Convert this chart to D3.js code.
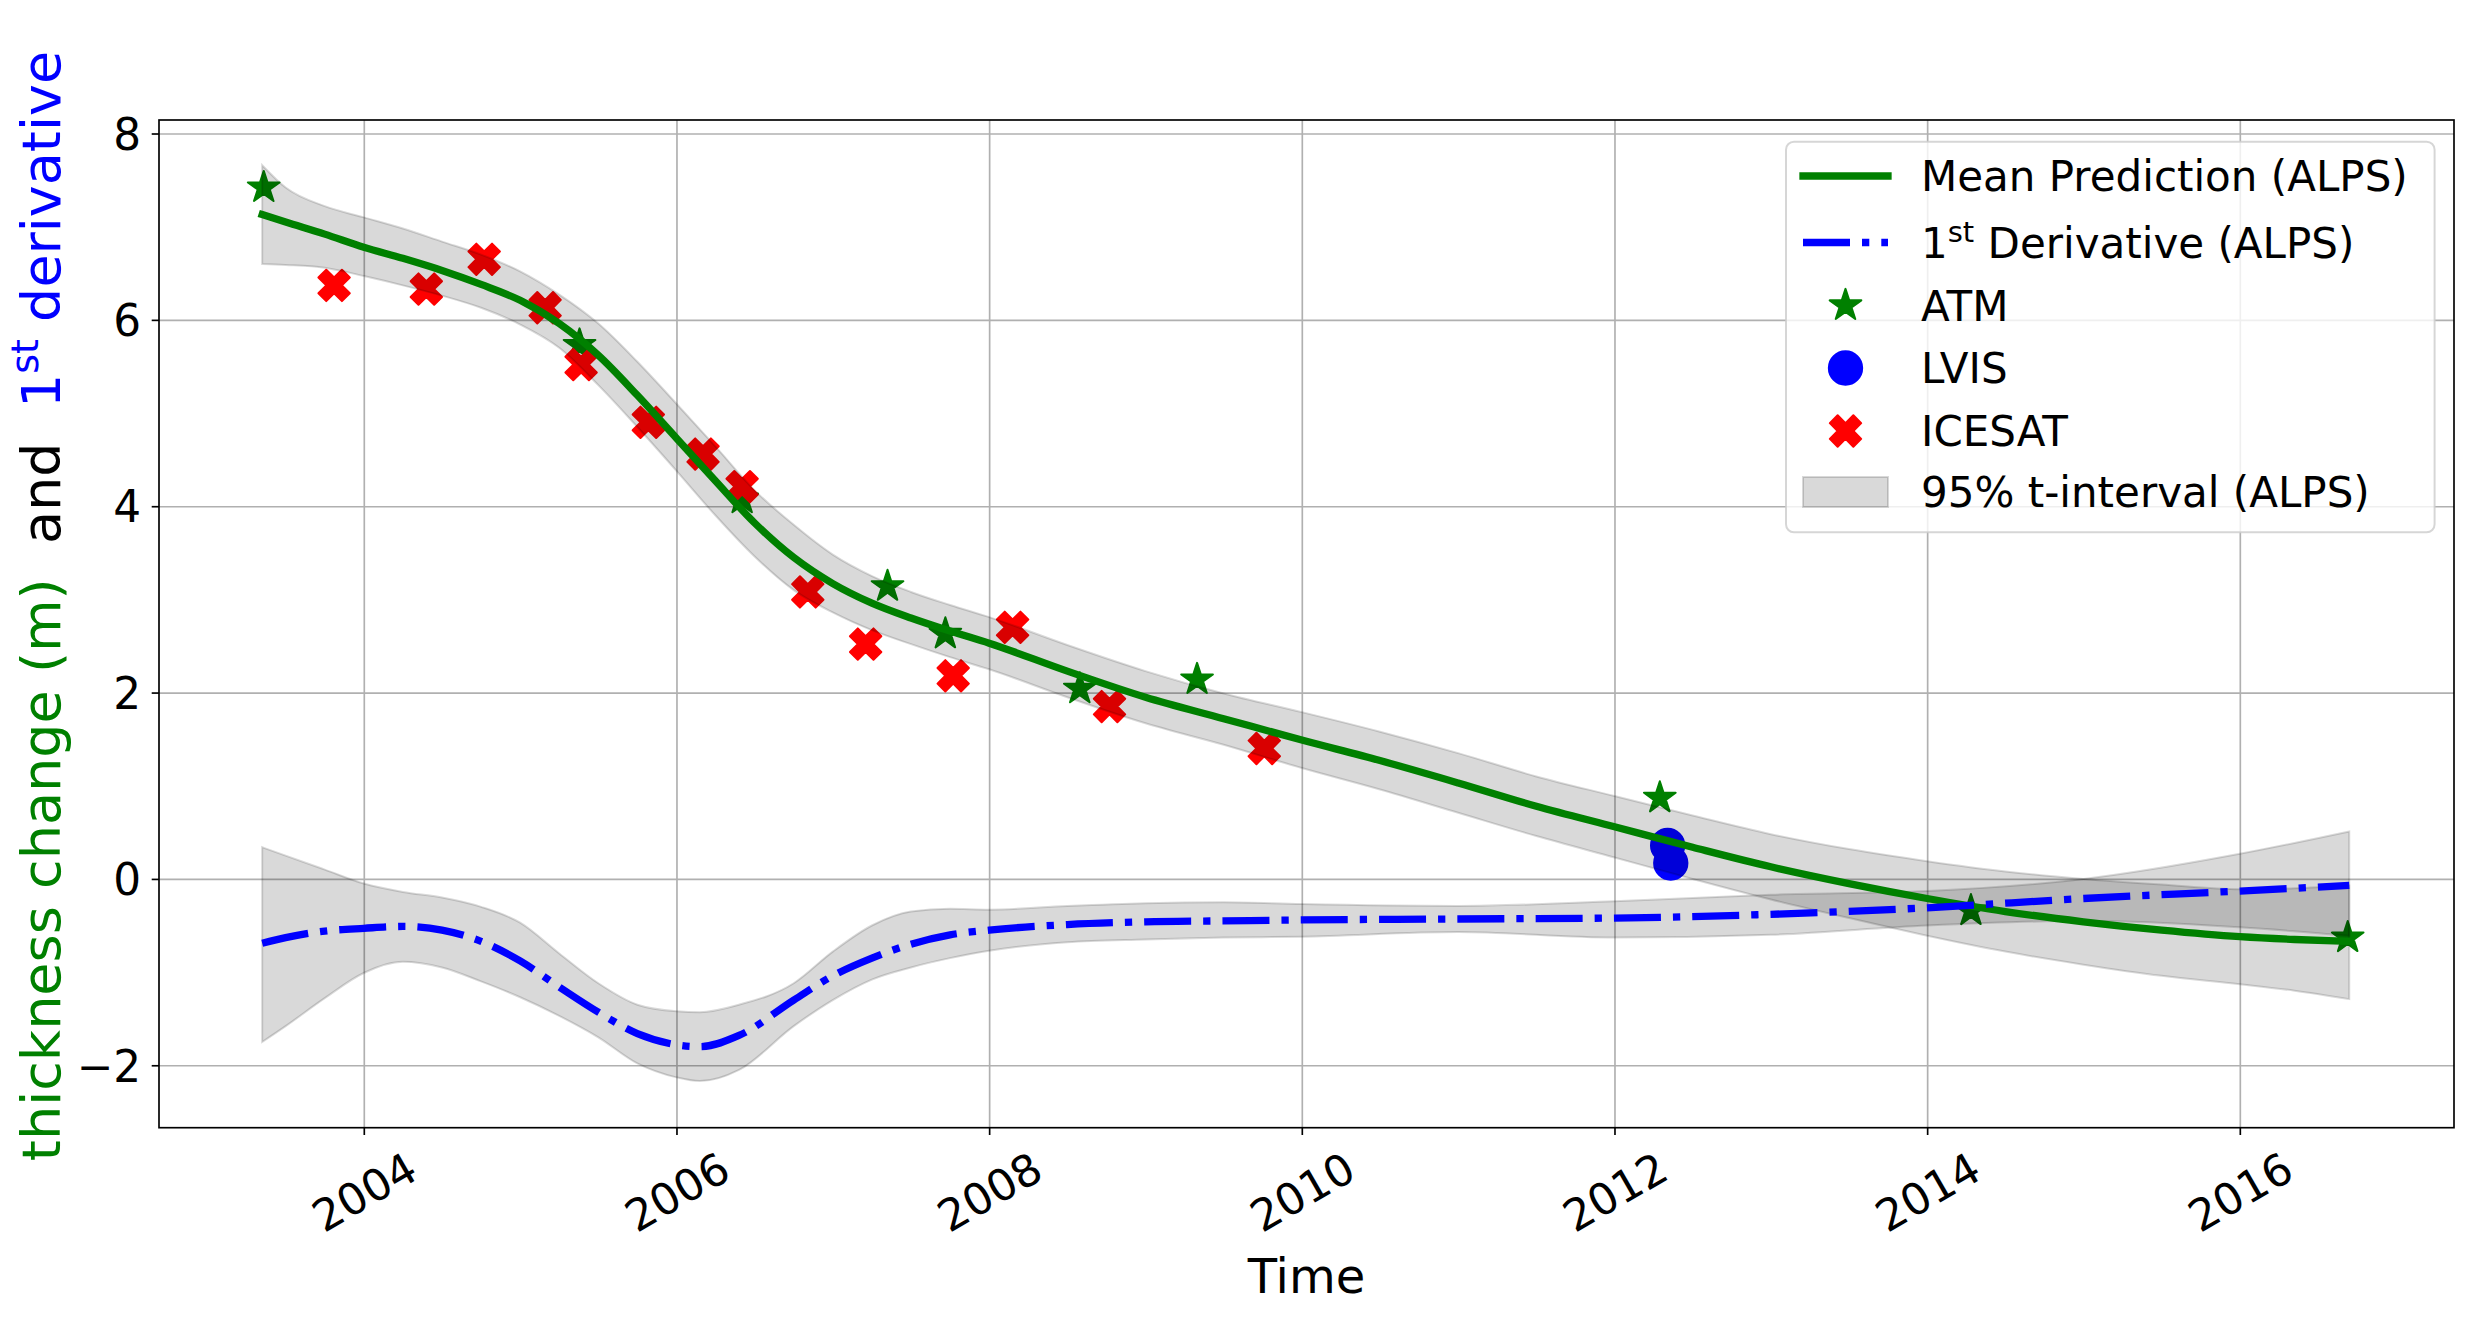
<!DOCTYPE html>
<html>
<head>
<meta charset="utf-8">
<script src="https://cdnjs.cloudflare.com/ajax/libs/d3/7.8.5/d3.min.js"></script>
<style>
body { margin: 0; background: #fff; }
svg { display: block; font-family: "DejaVu Sans", sans-serif; }
</style>
</head>
<body>
<svg></svg>
<script>
// figure size
var width = 2482;
var height = 1322;

// fitted thickness change (ALPS) with 95% t-interval
var fitYears = [2003.35, 2003.5, 2003.75, 2004, 2004.25, 2004.5, 2004.75, 2005, 2005.25, 2005.5,
    2005.75, 2006, 2006.25, 2006.5, 2006.75, 2007, 2007.25, 2007.5, 2007.75, 2008,
    2008.5, 2009, 2009.5, 2010, 2010.5, 2011, 2011.5, 2012, 2012.5, 2013,
    2013.5, 2014, 2014.5, 2015, 2015.5, 2016, 2016.35, 2016.7];
var fitMean = [7.13, 7.05, 6.92, 6.78, 6.66, 6.53, 6.38, 6.21, 5.96, 5.62,
    5.19, 4.73, 4.27, 3.82, 3.45, 3.17, 2.96, 2.80, 2.66, 2.53,
    2.23, 1.95, 1.72, 1.49, 1.27, 1.03, 0.78, 0.56, 0.34, 0.13,
    -0.05, -0.21, -0.35, -0.46, -0.55, -0.62, -0.65, -0.67];
var fitUpper = [7.66, 7.42, 7.22, 7.10, 6.98, 6.84, 6.70, 6.52, 6.27, 5.96,
    5.55, 5.10, 4.64, 4.17, 3.80, 3.48, 3.25, 3.08, 2.94, 2.81,
    2.51, 2.23, 1.99, 1.79, 1.58, 1.35, 1.10, 0.89, 0.68, 0.48,
    0.32, 0.19, 0.08, 0.00, -0.06, -0.11, -0.10, -0.07];
var fitLower = [6.60, 6.59, 6.56, 6.47, 6.37, 6.26, 6.13, 5.95, 5.70, 5.30,
    4.85, 4.38, 3.90, 3.46, 3.10, 2.86, 2.67, 2.52, 2.38, 2.25,
    1.95, 1.67, 1.44, 1.19, 0.96, 0.71, 0.46, 0.23, 0.00, -0.22,
    -0.42, -0.61, -0.78, -0.92, -1.04, -1.13, -1.20, -1.29];

// 1st derivative (ALPS) with 95% t-interval
var derivYears = [2003.35, 2003.5, 2003.75, 2004, 2004.25, 2004.5, 2004.75, 2005, 2005.25, 2005.5,
    2005.75, 2006, 2006.15, 2006.4, 2006.75, 2007, 2007.25, 2007.5, 2007.75, 2008,
    2008.5, 2009, 2009.5, 2010, 2011, 2012, 2013, 2014, 2015, 2016, 2016.7];
var derivMean = [-0.69, -0.63, -0.56, -0.53, -0.51, -0.55, -0.67, -0.88, -1.16, -1.43,
    -1.66, -1.78, -1.80, -1.68, -1.30, -1.04, -0.85, -0.70, -0.60, -0.55,
    -0.49, -0.46, -0.45, -0.44, -0.43, -0.42, -0.38, -0.31, -0.21, -0.13, -0.07];
var derivUpper = [0.34, 0.25, 0.10, -0.05, -0.14, -0.20, -0.30, -0.47, -0.80, -1.12,
    -1.35, -1.42, -1.43, -1.35, -1.12, -0.78, -0.50, -0.35, -0.32, -0.33,
    -0.29, -0.26, -0.25, -0.27, -0.29, -0.24, -0.17, -0.13, 0.00, 0.27, 0.51];
var derivLower = [-1.75, -1.58, -1.28, -1.01, -0.89, -0.95, -1.10, -1.27, -1.47, -1.70,
    -1.98, -2.13, -2.17, -2.05, -1.58, -1.30, -1.08, -0.95, -0.85, -0.77,
    -0.68, -0.65, -0.63, -0.62, -0.57, -0.63, -0.60, -0.50, -0.45, -0.52, -0.61];

// observations
var atmYears = [2003.36, 2005.38, 2006.42, 2007.35, 2007.72, 2008.58, 2009.33, 2012.29, 2014.28, 2016.69];
var atmValues = [7.42, 5.73, 4.08, 3.14, 2.63, 2.04, 2.14, 0.87, -0.34, -0.63];
var lvisYears = [2012.34, 2012.36];
var lvisValues = [0.36, 0.17];
var icesatYears = [2003.81, 2004.40, 2004.77, 2005.16, 2005.39, 2005.82, 2006.17, 2006.42, 2006.84, 2007.21,
    2007.77, 2008.15, 2008.77, 2009.76];
var icesatValues = [6.37, 6.33, 6.65, 6.13, 5.52, 4.90, 4.56, 4.21, 3.08, 2.52,
    2.18, 2.70, 1.85, 1.40];

var xTicks = [2004, 2006, 2008, 2010, 2012, 2014, 2016];
var yTicks = [-2, 0, 2, 4, 6, 8];
var legendLabels = ["Mean Prediction (ALPS)", "Derivative (ALPS)", "ATM", "LVIS", "ICESAT", "95% t-interval (ALPS)"];

var fit = fitYears.map(function(d, i) { return {year: d, mean: fitMean[i], hi: fitUpper[i], lo: fitLower[i]}; });
var deriv = derivYears.map(function(d, i) { return {year: d, mean: derivMean[i], hi: derivUpper[i], lo: derivLower[i]}; });
var atm = atmYears.map(function(d, i) { return {year: d, value: atmValues[i]}; });
var lvis = lvisYears.map(function(d, i) { return {year: d, value: lvisValues[i]}; });
var icesat = icesatYears.map(function(d, i) { return {year: d, value: icesatValues[i]}; });

// axes box
var axLeft = 159, axRight = 2454, axTop = 120, axBottom = 1127.7;
var lw = 1.67; // 0.8pt

var x = d3.scaleLinear().domain([2002.69, 2017.37]).range([axLeft, axRight]);
var y = d3.scaleLinear().domain([-2.67, 8.145]).range([axBottom, axTop]);

var svg = d3.select("svg")
    .attr("width", width)
    .attr("height", height);

svg.append("rect").attr("width", width).attr("height", height).attr("fill", "#fff");

// grid
var gx = svg.append("g")
    .attr("transform", "translate(0," + axBottom + ")")
    .call(d3.axisBottom(x).tickValues(xTicks).tickSize(-(axBottom - axTop)).tickFormat(""));
var gy = svg.append("g")
    .attr("transform", "translate(" + axLeft + ",0)")
    .call(d3.axisLeft(y).tickValues(yTicks).tickSize(-(axRight - axLeft)).tickFormat(""));
[gx, gy].forEach(function(g) {
    g.select(".domain").remove();
    g.selectAll("line").attr("stroke", "#b0b0b0").attr("stroke-width", lw);
});

// marker shapes (markersize ~16pt)
var ms = 33.3;
var starSymbol = d3.symbol().type(d3.symbolStar).size(Math.pow(ms / 2, 2) / 0.8908130915292852);
var circleSymbol = d3.symbol().type(d3.symbolCircle).size(Math.PI * Math.pow(ms / 2, 2));
// matplotlib filled 'X'
var plusPts = [[-1, -3], [1, -3], [1, -1], [3, -1], [3, 1], [1, 1], [1, 3], [-1, 3], [-1, 1], [-3, 1], [-3, -1], [-1, -1]];
var xPath = "M" + plusPts.map(function(p) {
    var s = ms / 6 / Math.SQRT2;
    return [(p[0] - p[1]) * s, (p[0] + p[1]) * s].join(",");
}).join("L") + "Z";

function marker(sel, color) {
    sel.attr("fill", color)
        .attr("stroke", color)
        .attr("stroke-width", 2)
        .attr("stroke-linejoin", "round");
}

var plot = svg.append("g");

plot.selectAll(".atm").data(atm).enter().append("path")
    .attr("class", "atm")
    .attr("d", starSymbol)
    .attr("transform", function(d) { return "translate(" + x(d.year) + "," + y(d.value) + ")"; })
    .call(marker, "green");

plot.selectAll(".lvis").data(lvis).enter().append("path")
    .attr("class", "lvis")
    .attr("d", circleSymbol)
    .attr("transform", function(d) { return "translate(" + x(d.year) + "," + y(d.value) + ")"; })
    .call(marker, "blue");

plot.selectAll(".icesat").data(icesat).enter().append("path")
    .attr("class", "icesat")
    .attr("d", xPath)
    .attr("transform", function(d) { return "translate(" + x(d.year) + "," + y(d.value) + ")"; })
    .call(marker, "red");

// 95% bands
var band = d3.area()
    .x(function(d) { return x(d.year); })
    .y0(function(d) { return y(d.lo); })
    .y1(function(d) { return y(d.hi); })
    .curve(d3.curveMonotoneX);

[fit, deriv].forEach(function(data) {
    plot.append("path")
        .datum(data)
        .attr("d", band)
        .attr("fill", "#000")
        .attr("fill-opacity", 0.15)
        .attr("stroke", "#000")
        .attr("stroke-opacity", 0.15)
        .attr("stroke-width", 2);
});

var line = d3.line()
    .x(function(d) { return x(d.year); })
    .y(function(d) { return y(d.mean); })
    .curve(d3.curveMonotoneX);

plot.append("path")
    .datum(fit)
    .attr("d", line)
    .attr("fill", "none")
    .attr("stroke", "green")
    .attr("stroke-width", 7.3)
    .attr("stroke-linecap", "square");

plot.append("path")
    .datum(deriv)
    .attr("d", line)
    .attr("fill", "none")
    .attr("stroke", "blue")
    .attr("stroke-width", 7.3)
    .attr("stroke-dasharray", "47,12,7.3,12");

// spines
svg.append("rect")
    .attr("x", axLeft).attr("y", axTop)
    .attr("width", axRight - axLeft).attr("height", axBottom - axTop)
    .attr("fill", "none")
    .attr("stroke", "#000")
    .attr("stroke-width", lw);

// ticks and labels
var xAxis = svg.append("g")
    .attr("transform", "translate(0," + axBottom + ")")
    .call(d3.axisBottom(x).tickValues(xTicks).tickSize(7.3).tickFormat(d3.format("d")));
xAxis.selectAll("text")
    .attr("y", 0)
    .attr("dy", "0.36em")
    .attr("transform", "translate(0,64) rotate(-30)")
    .style("text-anchor", "middle");

var yAxis = svg.append("g")
    .attr("transform", "translate(" + axLeft + ",0)")
    .call(d3.axisLeft(y).tickValues(yTicks).tickSize(7.3).tickPadding(10.5).tickFormat(d3.format("d")));
yAxis.selectAll("text").attr("dy", "0.36em");

[xAxis, yAxis].forEach(function(g) {
    g.attr("font-size", null).attr("font-family", null);
    g.select(".domain").remove();
    g.selectAll("line").attr("stroke", "#000").attr("stroke-width", lw);
    g.selectAll("text").attr("fill", "#000").style("font-size", "43.75px");
});

// axis titles
svg.append("text")
    .attr("x", (axLeft + axRight) / 2)
    .attr("y", 1293)
    .attr("text-anchor", "middle")
    .style("font-size", "48px")
    .text("Time");

var ylab = svg.append("text")
    .attr("transform", "translate(60,606) rotate(-90)")
    .attr("text-anchor", "middle")
    .style("font-size", "54px")
    .style("white-space", "pre");
ylab.append("tspan").attr("fill", "green").text("thickness change (m)");
ylab.append("tspan").attr("fill", "#000").text("  and  ");
ylab.append("tspan").attr("fill", "blue").text("1");
ylab.append("tspan").attr("fill", "blue").attr("dy", -22).style("font-size", "38px").text("st");
ylab.append("tspan").attr("fill", "blue").attr("dy", 22).text(" derivative");

// legend
var legend = svg.append("g");
legend.append("rect")
    .attr("x", 1786).attr("y", 141.7)
    .attr("width", 648.6).attr("height", 390.6)
    .attr("rx", 8).attr("ry", 8)
    .attr("fill", "#fff").attr("fill-opacity", 0.8)
    .attr("stroke", "#ccc").attr("stroke-opacity", 0.8)
    .attr("stroke-width", 2);

var rowY = [176, 242.5, 305.5, 368, 431, 492];
var hx0 = 1803, hx1 = 1888, hxc = (hx0 + hx1) / 2, tx = 1921;

legend.append("line")
    .attr("x1", hx0).attr("x2", hx1).attr("y1", rowY[0]).attr("y2", rowY[0])
    .attr("stroke", "green").attr("stroke-width", 7.3).attr("stroke-linecap", "square");
legend.append("line")
    .attr("x1", hx0).attr("x2", hx1).attr("y1", rowY[1]).attr("y2", rowY[1])
    .attr("stroke", "blue").attr("stroke-width", 7.3).attr("stroke-dasharray", "47,12,7.3,12");
legend.append("path").attr("d", starSymbol)
    .attr("transform", "translate(" + hxc + "," + rowY[2] + ")").call(marker, "green");
legend.append("path").attr("d", circleSymbol)
    .attr("transform", "translate(" + hxc + "," + rowY[3] + ")").call(marker, "blue");
legend.append("path").attr("d", xPath)
    .attr("transform", "translate(" + hxc + "," + rowY[4] + ")").call(marker, "red");
legend.append("rect")
    .attr("x", hx0).attr("y", rowY[5] - 15).attr("width", hx1 - hx0).attr("height", 30)
    .attr("fill", "#000").attr("fill-opacity", 0.15)
    .attr("stroke", "#000").attr("stroke-opacity", 0.15).attr("stroke-width", 2);

legendLabels.forEach(function(label, i) {
    var t = legend.append("text")
        .attr("x", tx)
        .attr("y", rowY[i] + 15)
        .style("font-size", "42px")
        .style("white-space", "pre");
    if (i === 1) {
        t.append("tspan").text("1");
        t.append("tspan").attr("dy", -16).style("font-size", "29px").text("st");
        t.append("tspan").attr("dy", 16).text(" " + label);
    } else {
        t.text(label);
    }
});
</script>
</body>
</html>
